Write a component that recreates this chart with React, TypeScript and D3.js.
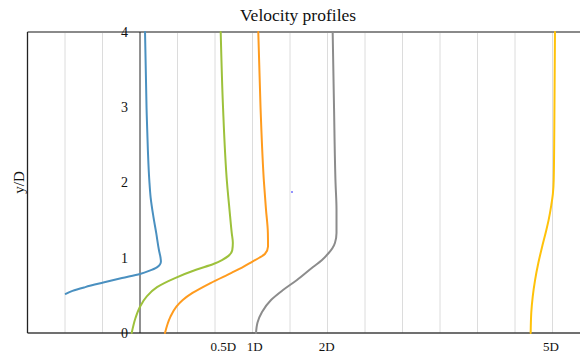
import React from "react";
import * as d3 from "d3";

const profile0D: [number, number][] = [
  [0.067, 4.0], [0.087, 3.0], [0.105, 2.43], [0.124, 2.03], [0.142, 1.8],
  [0.178, 1.55], [0.216, 1.33], [0.253, 1.1], [0.274, 1.0], [0.279, 0.95],
  [0.266, 0.91], [0.225, 0.872], [0.12, 0.825], [0.0, 0.785], [-0.24, 0.73],
  [-0.49, 0.67], [-0.73, 0.61], [-0.9, 0.56], [-0.99, 0.52],
];
const profile05D: [number, number][] = [
  [1.076, 4.0], [1.107, 3.0], [1.16, 2.0], [1.193, 1.64], [1.223, 1.33],
  [1.238, 1.2], [1.23, 1.1], [1.18, 1.025], [1.093, 0.97], [0.987, 0.92],
  [0.747, 0.84], [0.467, 0.73], [0.227, 0.61], [0.093, 0.49], [0.0, 0.35],
  [-0.06, 0.2], [-0.111, 0.0],
];
const profile1D: [number, number][] = [
  [1.577, 4.0], [1.607, 3.0], [1.653, 2.0], [1.68, 1.64], [1.705, 1.33],
  [1.707, 1.15], [1.665, 1.05], [1.59, 1.0], [1.5, 0.95], [1.36, 0.87],
  [1.22, 0.8], [0.94, 0.664], [0.7, 0.532], [0.57, 0.439], [0.485, 0.35],
  [0.405, 0.215], [0.333, 0.0],
];
const profile2D: [number, number][] = [
  [2.569, 4.0], [2.587, 3.0], [2.607, 2.0], [2.62, 1.64], [2.62, 1.33],
  [2.6, 1.2], [2.567, 1.13], [2.513, 1.06], [2.427, 0.97], [2.307, 0.877],
  [2.093, 0.704], [1.907, 0.571], [1.747, 0.439], [1.627, 0.279], [1.567, 0.14],
  [1.547, 0.0],
];
const profile5D: [number, number][] = [
  [5.533, 4.0], [5.524, 2.7], [5.516, 2.03], [5.505, 1.85], [5.484, 1.7],
  [5.448, 1.5], [5.413, 1.35], [5.36, 1.14], [5.311, 0.93], [5.267, 0.7],
  [5.236, 0.48], [5.217, 0.27], [5.209, 0.0],
];
const strayPoints: [number, number][] = [[2.027, 1.874]];

const seriesColors = ["#4a90c0", "#9dc13b", "#ff9b1e", "#8c8c8c", "#ffc20a"];
const yTicks = [0, 1, 2, 3, 4];
const stationLabels = ["0.5D", "1D", "2D", "5D"];
const stationPositions = [1.11, 1.53, 2.49, 5.48];
const gridValues = [-1, -0.5, 0.5, 1, 1.5, 2, 2.5, 3, 3.5, 4, 4.5, 5, 5.5];

const W = 580;
const H = 358;

export default function App() {
  const x = d3.scaleLinear().domain([-1.5, 6]).range([27.5, 590]);
  const y = d3.scaleLinear().domain([0, 4]).range([333, 32]);
  const line = d3
    .line<[number, number]>()
    .x((d) => x(d[0]))
    .y((d) => y(d[1]))
    .curve(d3.curveMonotoneY);

  const profiles = [profile0D, profile05D, profile1D, profile2D, profile5D];
  const serif = "'Liberation Serif', 'Times New Roman', serif";

  return (
    <svg
      width={W}
      height={H}
      style={{ position: "absolute", left: 0, top: 0, display: "block", background: "#fff" }}
    >
      <rect x={0} y={0} width={W} height={H} fill="#fff" />
      <text x={298} y={21} textAnchor="middle" fontFamily={serif} fontSize={17.5} fill="#111">
        Velocity profiles
      </text>

      {gridValues.map((g) => (
        <line key={g} x1={x(g)} x2={x(g)} y1={y(4)} y2={y(0)} stroke="#dcdcdc" strokeWidth={1} />
      ))}

      {/* frame */}
      <line x1={x(-1.5)} x2={W} y1={y(4)} y2={y(4)} stroke="#8a8a8a" strokeWidth={2} />
      <line x1={x(-1.5)} x2={W} y1={y(0)} y2={y(0)} stroke="#404040" strokeWidth={1.5} />
      <line x1={x(-1.5)} x2={x(-1.5)} y1={y(4)} y2={y(0)} stroke="#222" strokeWidth={1.3} />
      <line x1={x(0)} x2={x(0)} y1={y(4)} y2={y(0)} stroke="#222" strokeWidth={1} />

      {yTicks.map((t) => (
        <text
          key={t}
          x={x(0) - 12}
          y={y(t)}
          dy="0.35em"
          textAnchor="end"
          fontFamily={serif}
          fontSize={14}
          fill="#111"
        >
          {t}
        </text>
      ))}

      {stationLabels.map((s, i) => (
        <text
          key={s}
          x={x(stationPositions[i])}
          y={351}
          textAnchor="middle"
          fontFamily={serif}
          fontSize={13}
          fill="#111"
        >
          {s}
        </text>
      ))}

      <text
        transform={`translate(24,${y(2)}) rotate(-90)`}
        textAnchor="middle"
        fontFamily={serif}
        fontSize={15}
        fill="#111"
      >
        y/D
      </text>

      {profiles.map((p, i) => (
        <path
          key={i}
          d={line(p) || ""}
          fill="none"
          stroke={seriesColors[i]}
          strokeWidth={2}
          strokeLinecap="round"
        />
      ))}

      {strayPoints.map((p, i) => (
        <circle key={i} cx={x(p[0])} cy={y(p[1])} r={1} fill="#7070ff" />
      ))}
    </svg>
  );
}
